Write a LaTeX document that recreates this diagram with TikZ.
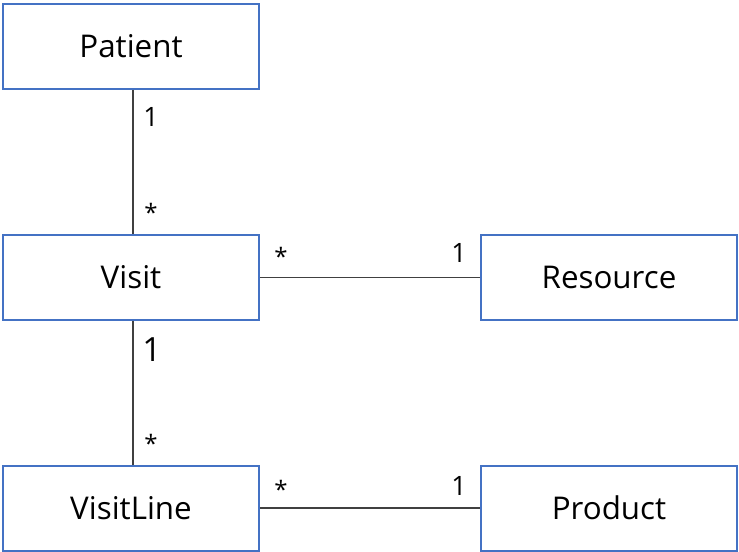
\documentclass[tikz,border=0pt]{standalone}
\usepackage{fontspec}
\setmainfont{Open Sans}
\begin{document}
\begin{tikzpicture}[x=0.75pt,y=-0.75pt,
  box/.style={draw=boxblue,line width=1.5pt,fill=white,minimum width=256*0.75pt,minimum height=85*0.75pt,inner sep=0pt,font=\fontsize{23.5}{28}\selectfont},
  conn/.style={draw=linegray,line width=1pt},
  mult/.style={inner sep=0pt,anchor=base,font=\fontsize{20}{24}\selectfont},
  star/.style={inner sep=0pt,anchor=base,font=\fontsize{18}{22}\selectfont}]
\definecolor{boxblue}{HTML}{4472C4}
\definecolor{linegray}{HTML}{404040}
\useasboundingbox (0,0) rectangle (739,552);
\node[box] (patient) at (131,46.5) {Patient};
\node[box] (visit) at (131,277.5) {Visit};
\node[box] (resource) at (609,277.5) {Resource};
\node[box] (visitline) at (131,508) {VisitLine};
\node[box] (product) at (609,508) {Product};
\coordinate (pv) at (133,0);
\draw[conn] (patient.south -| pv) -- (visit.north -| pv);
\draw[conn] (visit.south -| pv) -- (visitline.north -| pv);
\draw[conn] (visit.east) -- (resource.west);
\draw[conn] (visitline.east) -- (product.west);
\node[mult] (m1) at (151,127) {1};
\node[star] (m2) at (151,222) {*};
\node[star] (m3) at (281,266) {*};
\node[mult] (m4) at (459,263) {1};
\node[mult,font=\fontsize{25}{30}\selectfont] (m5) at (152,362) {1};
\node[star] (m6) at (151,452) {*};
\node[star] (m7) at (281,498) {*};
\node[mult] (m8) at (459,495) {1};
\end{tikzpicture}
\end{document}
